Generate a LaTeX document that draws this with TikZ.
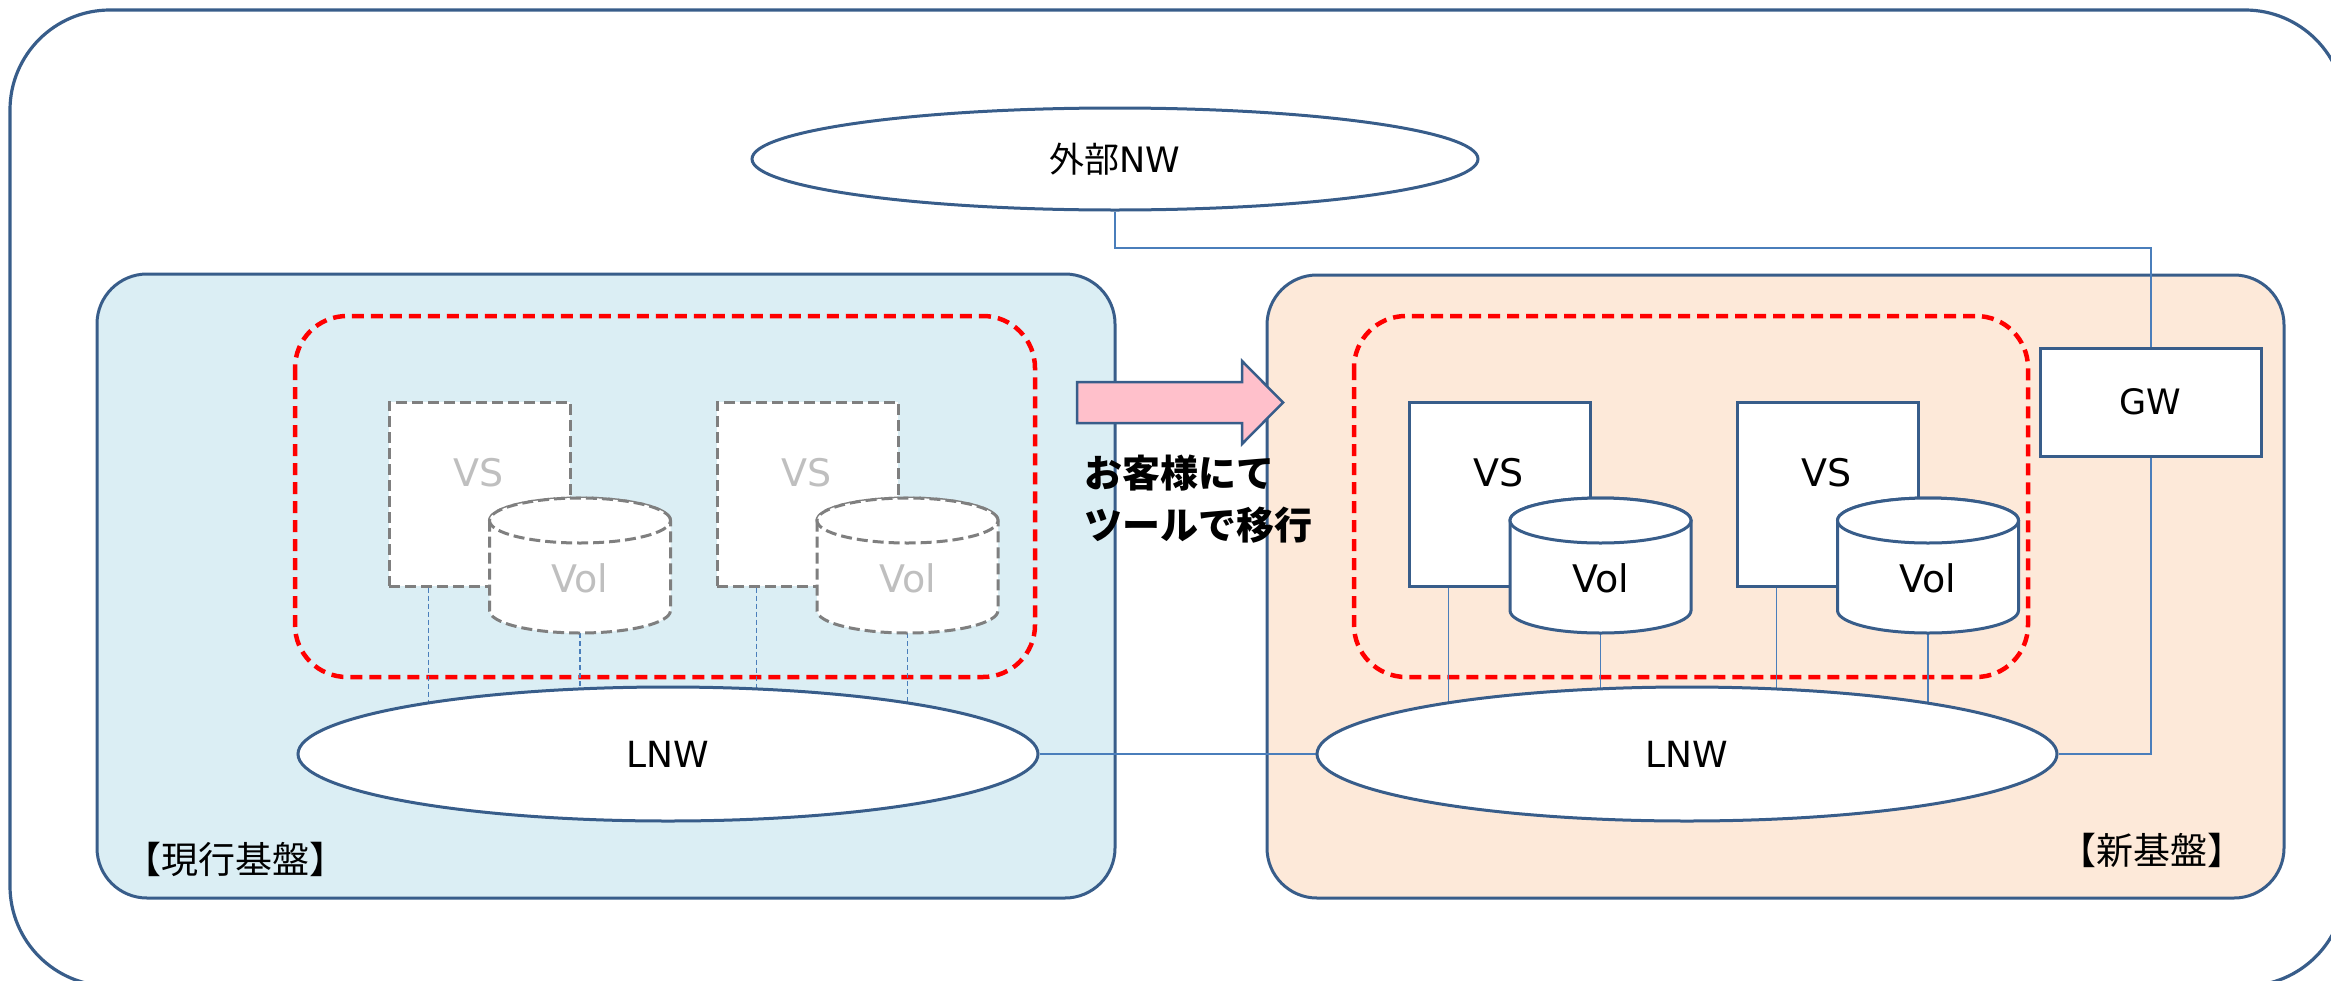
\documentclass[tikz,border=0pt]{standalone}
\usepackage{fontspec}
\setmainfont{DejaVu Sans}
\newfontfamily\jp{Noto Sans CJK JP}
\usetikzlibrary{shapes.geometric}
\pgfdeclarelayer{back}
\pgfdeclarelayer{conn}
\pgfsetlayers{back,conn,main}
\definecolor{ol}{HTML}{385D8A}
\definecolor{cn}{HTML}{4A7EBB}
\definecolor{lfill}{HTML}{DBEEF4}
\definecolor{rfill}{HTML}{FDE9D9}
\definecolor{gd}{HTML}{7F7F7F}
\definecolor{gt}{HTML}{BFBFBF}
\definecolor{pk}{HTML}{FFC0CB}
\definecolor{rd}{HTML}{FF0000}
\tikzset{
 outl/.style={draw=ol,line width=3pt},
 boxsolid/.style={outl,fill=white,minimum width=181pt,minimum height=184pt,inner sep=0pt},
 boxdash/.style={draw=gd,line width=3pt,dash pattern=on 11pt off 5pt,fill=white,minimum width=181pt,minimum height=184pt,inner sep=0pt},
 cylsolid/.style={outl,fill=white},
 cyldash/.style={draw=gd,line width=3pt,dash pattern=on 11pt off 5pt,fill=white},
 ell/.style={ellipse,outl,fill=white,inner sep=0pt,minimum width=740pt,minimum height=134pt},
 conline/.style={draw=cn,line width=2pt},
 condash/.style={draw=cn,line width=1.3pt,dash pattern=on 5pt off 3pt},
 reddash/.style={draw=rd,line width=4.5pt,dash pattern=on 12pt off 7pt,rounded corners=52pt},
 lbl/.style={font=\fontsize{35}{42}\selectfont,inner sep=0pt},
 bigtxt/.style={font=\fontsize{38}{45}\selectfont,inner sep=0pt},
 jplbl/.style={font=\jp\fontsize{37}{42}\selectfont,inner sep=0pt},
}
% cylinder: #1 centre x, #2 style
\newcommand\mycyl[2]{%
  \path[#2] (#1-90.5,520.5) -- (#1-90.5,610.5)
     arc[start angle=180,end angle=360,x radius=90.5pt,y radius=22.5pt]
     -- (#1+90.5,520.5)
     arc[start angle=0,end angle=180,x radius=90.5pt,y radius=22.5pt] -- cycle;
  \path[#2] (#1,520.5) ellipse[x radius=90.5pt,y radius=22.5pt];
}
\begin{document}
\begin{tikzpicture}[x=1pt,y=-1pt]
\useasboundingbox (0,0) rectangle (2331,980);

% ---------- nodes ----------
\node[ell,minimum width=726pt,minimum height=102pt] (ext) at (1115,159) {};
\node[lbl] at (ext.center) {{\jp 外部}NW};

\node[ell] (lnw1) at (668,754) {};
\node[lbl,font=\fontsize{36}{42}\selectfont] at (lnw1.center) {LNW};
\node[ell] (lnw2) at (1687,754) {};
\node[lbl,font=\fontsize{36}{42}\selectfont] at (lnw2.center) {LNW};

\node[outl,fill=white,minimum width=221pt,minimum height=108pt,inner sep=0pt,lbl] (gw) at (2150.5,402) {GW};

% current VS / Vol (dashed, gray)
\node[boxdash] (vs1) at (479.5,494) {};
\node[bigtxt,text=gt] at (479,473) {VS};
\mycyl{580}{cyldash}
\node[bigtxt,text=gt] (vol1) at (580,578) {Vol};
\node[boxdash] (vs2) at (807.5,494) {};
\node[bigtxt,text=gt] at (807,473) {VS};
\mycyl{907.5}{cyldash}
\node[bigtxt,text=gt] (vol2) at (907.5,578) {Vol};

% new VS / Vol
\node[boxsolid] (vs3) at (1499.5,494) {};
\node[bigtxt] at (1499,473) {VS};
\mycyl{1600.5}{cylsolid}
\node[bigtxt] (vol3) at (1600.5,578) {Vol};
\node[boxsolid] (vs4) at (1827.5,494) {};
\node[bigtxt] at (1827,473) {VS};
\mycyl{1928}{cylsolid}
\node[bigtxt] (vol4) at (1928,578) {Vol};

\coordinate (c1) at (580,633);
\coordinate (c2) at (907.5,633);
\coordinate (c3) at (1600.5,633);
\coordinate (c4) at (1928,633);
\coordinate (v1) at ([xshift=41pt]vs1.south west);
\coordinate (v2) at ([xshift=41pt]vs2.south west);
\coordinate (v3) at ([xshift=41pt]vs3.south west);
\coordinate (v4) at ([xshift=41pt]vs4.south west);

% migration arrow
\draw[draw=ol,line width=2.5pt,fill=pk,line join=miter]
  (1077,382) -- (1242,382) -- (1242,361) -- (1283,402.5) -- (1242,444) -- (1242,423) -- (1077,423) -- cycle;
\node[font=\jp\bfseries\fontsize{38}{52}\selectfont,align=left,anchor=west,inner sep=0pt] (mig) at (1084,499)
  {お客様にて\\ツールで移行};

\node[jplbl] (cur) at (235,859) {【現行基盤】};
\node[jplbl] (new) at (2152,850) {【新基盤】};

% ---------- connectors ----------
\begin{pgfonlayer}{conn}
\coordinate (bend) at (1115,248);
\draw[conline] (ext.south) -- (bend) -| (gw.north);
\draw[conline] (gw.south) |- (lnw2.east);
\draw[conline] (lnw1.east) -- (lnw2.west);
\draw[condash] (v1) -- (v1 |- lnw1.center);
\draw[condash] (c1) -- (c1 |- lnw1.center);
\draw[condash] (v2) -- (v2 |- lnw1.center);
\draw[condash] (c2) -- (c2 |- lnw1.center);
\draw[conline,line width=1.5pt] (v3) -- (v3 |- lnw2.center);
\draw[conline,line width=1.5pt] (c3) -- (c3 |- lnw2.center);
\draw[conline,line width=1.5pt] (v4) -- (v4 |- lnw2.center);
\draw[conline,line width=1.5pt] (c4) -- (c4 |- lnw2.center);
\end{pgfonlayer}

% ---------- background ----------
\begin{pgfonlayer}{back}
\draw[outl,line width=3.2pt,rounded corners=100pt] (10,10) rectangle (2345,986);
\draw[outl,fill=lfill,rounded corners=50pt] (97,274) rectangle (1115,898);
\draw[outl,fill=rfill,rounded corners=50pt] (1267,275) rectangle (2284,898);
\draw[reddash] (295,316) rectangle (1035,677);
\draw[reddash] (1354,316) rectangle (2028,677);
\end{pgfonlayer}
\end{tikzpicture}
\end{document}
